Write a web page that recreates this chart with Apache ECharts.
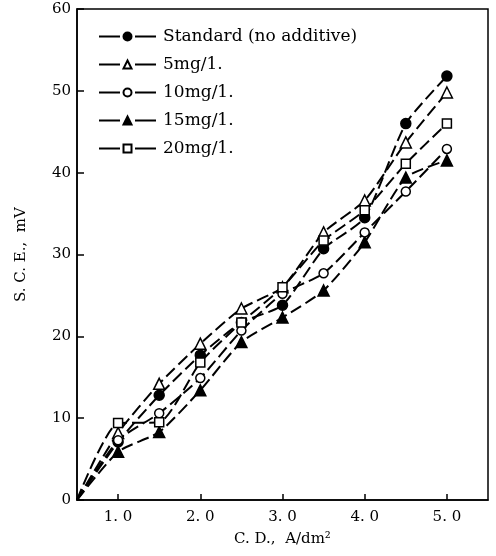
<!DOCTYPE html>
<html>
<head>
<meta charset="utf-8">
<script src="https://cdn.jsdelivr.net/npm/echarts@6/dist/echarts.min.js"></script>
<style>
  html, body { margin: 0; padding: 0; background: #fff; }
  #chart { width: 496px; height: 556px; }
</style>
</head>
<body>
<div id="chart"></div>
<script>
  // current density, A/dm2 (0.5 is the common origin of all curves)
  var cd = [0.5, 1.0, 1.5, 2.0, 2.5, 3.0, 3.5, 4.0, 4.5, 5.0];
  var standard = [0, 7.1, 12.8, 17.7, 21.7, 23.8, 30.7, 34.5, 46.0, 51.8];
  var mg5 = [0, 8.2, 14.2, 19.1, 23.4, 26.0, 32.7, 36.6, 43.7, 49.8];
  var mg10 = [0, 7.3, 10.6, 14.9, 20.7, 25.2, 27.7, 32.7, 37.7, 42.9];
  var mg15 = [0, 5.9, 8.3, 13.4, 19.3, 22.3, 25.6, 31.5, 39.4, 41.5];
  var mg20 = [0, 9.4, 9.5, 16.8, 21.7, 26.0, 31.7, 35.4, 41.1, 46.0];
  var seriesNames = ['Standard (no additive)', '5mg/1.', '10mg/1.', '15mg/1.', '20mg/1.'];
  var xTicks = [1, 2, 3, 4, 5];
  var xTickLabels = ['1. 0', '2. 0', '3. 0', '4. 0', '5. 0'];

  var serif = 'DejaVu Serif';

  function pts(vals) {
    var out = [];
    for (var i = 0; i < cd.length; i++) {
      var p = { value: [cd[i], vals[i]] };
      if (i === 0) p.symbol = 'none';
      out.push(p);
    }
    return out;
  }

  function makeSeries(name, vals, symbol, filled, size) {
    return {
      name: name,
      type: 'line',
      data: pts(vals),
      smooth: 0.2,
      symbol: symbol,
      symbolSize: size,
      showAllSymbol: true,
      lineStyle: { color: '#000', width: 2, type: [12, 5] },
      itemStyle: { color: filled ? '#000' : '#fff', borderColor: '#000', borderWidth: 1.5, opacity: 1 },
      z: filled ? 3 : 4
    };
  }

  var chart = echarts.init(document.getElementById('chart'));
  chart.setOption({
    backgroundColor: '#fff',
    animation: false,
    grid: { left: 77, right: 8, top: 9, bottom: 56 },
    legend: {
      orient: 'vertical',
      left: 93,
      top: 23,
      itemWidth: 57,
      itemHeight: 10,
      itemGap: 11,
      data: seriesNames,
      textStyle: { fontFamily: serif, fontSize: 17, color: '#000', padding: [0, 0, 0, 2] },
      lineStyle: { type: [21, 15], width: 2 }
    },
    xAxis: {
      type: 'value',
      min: 0.5,
      max: 5.5,
      name: 'C. D.,  A/dm²',
      nameLocation: 'middle',
      nameGap: 32,
      nameTextStyle: { fontFamily: serif, fontSize: 15, color: '#000' },
      axisLine: { lineStyle: { color: '#000', width: 1.5 } },
      axisTick: { inside: true, length: 6, customValues: xTicks, lineStyle: { color: '#000', width: 1.5 } },
      axisLabel: {
        customValues: xTicks,
        fontFamily: serif, fontSize: 15, color: '#000', margin: 10,
        formatter: function (v) { return xTickLabels[xTicks.indexOf(Math.round(v))] || ''; }
      },
      splitLine: { show: false }
    },
    yAxis: {
      type: 'value',
      min: 0,
      max: 60,
      interval: 10,
      name: 'S. C. E.,  mV',
      nameLocation: 'middle',
      nameGap: 48,
      nameRotate: 90,
      nameTextStyle: { fontFamily: serif, fontSize: 15, color: '#000' },
      axisLine: { show: true, lineStyle: { color: '#000', width: 1.5 } },
      axisTick: { show: true, inside: true, length: 7, lineStyle: { color: '#000', width: 1.5 } },
      axisLabel: { fontFamily: serif, fontSize: 15, color: '#000', margin: 6 },
      splitLine: { show: false }
    },
    graphic: [{
      type: 'rect',
      shape: { x: 77, y: 9, width: 411, height: 491 },
      style: { fill: 'none', stroke: '#000', lineWidth: 1.5 },
      silent: true,
      z: -1
    }],
    series: [
      makeSeries(seriesNames[0], standard, 'circle', true, 10),
      makeSeries(seriesNames[1], mg5, 'triangle', false, 11),
      makeSeries(seriesNames[2], mg10, 'circle', false, 9),
      makeSeries(seriesNames[3], mg15, 'triangle', true, 11),
      makeSeries(seriesNames[4], mg20, 'rect', false, 9)
    ]
  });
</script>
</body>
</html>
